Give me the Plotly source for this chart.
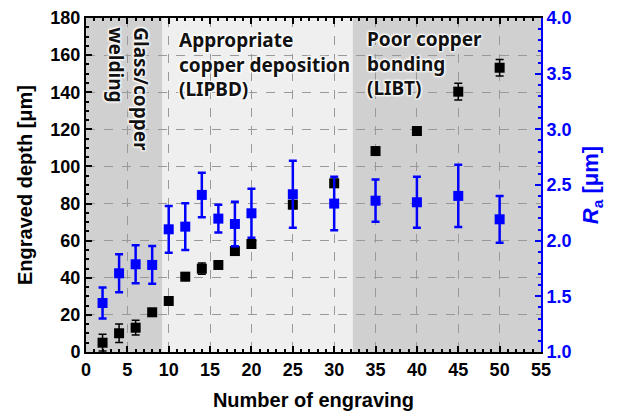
import plotly.graph_objects as go

# Data
n_engr = [2, 4, 6, 8, 10, 12, 14, 16, 18, 20, 25, 30, 35, 40, 45, 50]
depth = [5.0, 10.1, 13.1, 21.4, 27.5, 40.6, 44.9, 46.9, 54.4, 58.2, 79.4, 90.9, 108.3, 119.1, 140.3, 153.2]
depth_err = [4.5, 5.0, 4.0, 1.5, 2.0, 2.0, 3.0, 1.2, 2.0, 2.0, 2.0, 2.0, 1.0, 2.0, 4.5, 4.5]
ra = [1.44, 1.707, 1.788, 1.782, 2.102, 2.126, 2.411, 2.198, 2.15, 2.246, 2.417, 2.333, 2.359, 2.345, 2.402, 2.192]
ra_err = [0.14, 0.17, 0.17, 0.17, 0.21, 0.21, 0.2, 0.125, 0.2, 0.22, 0.3, 0.24, 0.19, 0.23, 0.28, 0.21]

regions = [(0, 9.25, "#d0d0d0"), (9.25, 32.25, "#efefef"), (32.25, 55, "#d0d0d0")]
region_labels = [
    (5.1, 176, "Glass/copper<br>welding", 90),
    (11.0, 176, "Appropriate<br>copper deposition<br>(LIPBD)", 0),
    (33.7, 177, "Poor copper<br>bonding<br>(LIBT)", 0),
]

fig = go.Figure()

fig.add_trace(go.Scatter(
    x=n_engr, y=depth, mode="markers",
    marker=dict(symbol="square", size=10, color="black"),
    error_y=dict(type="data", array=depth_err, color="black", thickness=1.5, width=4),
    showlegend=False, yaxis="y"))

fig.add_trace(go.Scatter(
    x=n_engr, y=ra, mode="markers",
    marker=dict(symbol="square", size=10, color="#0000ff"),
    error_y=dict(type="data", array=ra_err, color="#0000ff", thickness=2.5, width=4),
    showlegend=False, yaxis="y2"))

for x0, x1, c in regions:
    fig.add_shape(type="rect", xref="x", yref="paper", x0=x0, x1=x1, y0=0, y1=1,
                  fillcolor=c, line_width=0, layer="below")

ann_font = dict(family="Noto Sans", size=19, color="#111111", weight=700,
                shadow="1px 1px 2px white, -1px -1px 2px white, 1px -1px 2px white, -1px 1px 2px white")
for xa, ya, txt, ang in region_labels:
    if ang == 90:
        fig.add_annotation(x=xa, y=ya, xref="x", yref="y", text=txt, textangle=90,
                           showarrow=False, xanchor="center", yanchor="top", align="left",
                           font=ann_font)
    else:
        fig.add_annotation(x=xa, y=ya, xref="x", yref="y", text=txt,
                           showarrow=False, xanchor="left", yanchor="top", align="left",
                           font=ann_font)

tickfont = dict(family="Liberation Sans", size=18, color="black", weight="bold")
titlefont = dict(family="Liberation Sans", size=20, color="black", weight="bold")
fig.update_layout(
    width=620, height=406,
    margin=dict(l=78, r=87, t=10, b=62),
    paper_bgcolor="white", plot_bgcolor="white",
    xaxis=dict(range=[0, 55], dtick=5, tick0=0, ticks="inside", ticklen=6, tickwidth=1.5,
               tickcolor="black", showline=True, linecolor="black", linewidth=2, mirror="ticks",
               showgrid=True, gridcolor="#999999", griddash="dash", gridwidth=1,
               minor=dict(dtick=1, ticks="inside", ticklen=3, tickcolor="black", showgrid=False),
               tickfont=tickfont, zeroline=False, automargin=False,
               title=dict(text="Number of engraving", font=titlefont, standoff=14)),
    yaxis=dict(range=[0, 180], dtick=20, ticks="inside", ticklen=6, tickwidth=1.5,
               tickcolor="black", showline=True, linecolor="black", linewidth=2,
               showgrid=True, gridcolor="#999999", griddash="dash", gridwidth=1,
               minor=dict(dtick=5, ticks="inside", ticklen=3, tickcolor="black", showgrid=False),
               tickfont=tickfont, zeroline=False, automargin=False,
               title=dict(text="Engraved depth [μm]", font=titlefont, standoff=12)),
    yaxis2=dict(range=[1.0, 4.0], dtick=0.5, tickformat=".1f", overlaying="y", side="right",
                ticks="inside", ticklen=6, tickwidth=1.5, tickcolor="#0000ff",
                showline=True, linecolor="#0000ff", linewidth=2, showgrid=False, zeroline=False,
                minor=dict(dtick=0.1, ticks="inside", ticklen=3, tickcolor="#0000ff"),
                tickfont=dict(family="Liberation Sans", size=18, color="#0000ff", weight="bold"),
                automargin=False,
                title=dict(text="<i>R</i><sub>a</sub> [μm]", font=dict(family="Liberation Sans", size=22, color="#0000ff", weight="bold"), standoff=12)),
)

fig.write_html("out.html")
